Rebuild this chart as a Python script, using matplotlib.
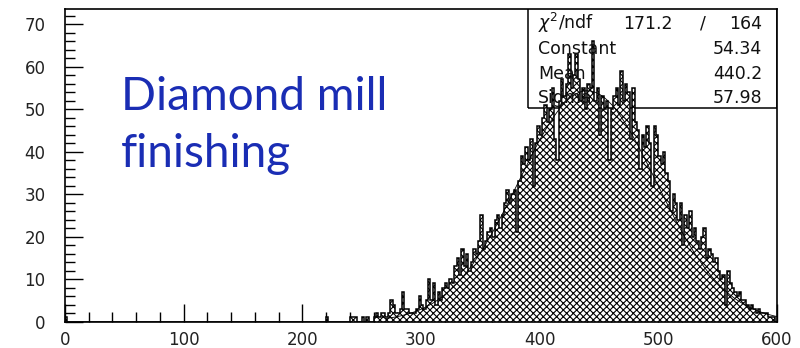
import numpy as np
import matplotlib
matplotlib.use("Agg")
import matplotlib.pyplot as plt
from matplotlib.ticker import MultipleLocator
from matplotlib.patches import Rectangle

plt.rcParams['hatch.linewidth'] = 0.8

# histogram: bin width 2, range 0..600
bin_width = 2
x_min, x_max = 0, 600
# isolated low bins (bin start -> count)
low_bins = {0: 1, 220: 1}
# main body, bins starting at 230, 232, ... 598
main_start = 230
main_counts = [
    0, 0, 0, 0, 0, 1, 1, 1, 0, 0,        # 230-248
    1, 0, 1, 0, 0, 1, 2, 1, 2, 2,        # 250-268
    1, 2, 5, 4, 2, 2, 3, 7, 3, 3,        # 270-288
    2, 2, 2, 3, 6, 4, 3, 5, 10, 5,       # 290-308
    9, 4, 7, 5, 8, 9, 8, 10, 9, 13,      # 310-328
    15, 11, 17, 13, 16, 12, 14, 17, 16, 19,   # 330-348
    25, 17, 19, 21, 22, 20, 24, 25, 22, 25,   # 350-368
    28, 31, 28, 30, 31, 21, 33, 39, 37, 41,   # 370-388
    38, 43, 32, 42, 46, 44, 48, 51, 47, 50,   # 390-408
    55, 43, 38, 52, 57, 53, 56, 63, 55, 58,   # 410-428
    63, 57, 52, 55, 50, 56, 55, 66, 52, 55,   # 430-448
    44, 53, 50, 52, 38, 50, 53, 55, 51, 59,   # 450-468
    52, 56, 54, 43, 55, 47, 45, 36, 44, 41,   # 470-488
    46, 42, 32, 46, 44, 39, 37, 40, 35, 33,   # 490-508
    26, 30, 28, 24, 28, 18, 25, 22, 26, 20,   # 510-528
    22, 19, 17, 20, 22, 15, 17, 16, 14, 15,   # 530-548
    12, 10, 11, 4, 12, 9, 8, 7, 6, 7,         # 550-568
    5, 5, 4, 3, 4, 3, 2, 3, 2, 2,             # 570-588
    2, 1, 1, 1, 0,                            # 590-598
]

# gaussian fit results (stats box)
fit_const = 54.34
fit_mean = 440.2
fit_sigma = 57.98
fit_chi2 = 171.2
fit_ndf = 164
fit_range = (270, 600)

edges = np.arange(x_min, x_max + bin_width, bin_width)
counts = np.zeros(len(edges) - 1)
for start, c in low_bins.items():
    counts[start // bin_width] = c
i0 = main_start // bin_width
counts[i0:i0 + len(main_counts)] = main_counts

fig = plt.figure(figsize=(8, 3.48), dpi=100)
ax = fig.add_axes([65 / 800, 26.3 / 348, 712 / 800, 312.4 / 348])

# stats box (drawn under the histogram, like the original)
ax.add_patch(Rectangle((390.2, 50.3), 600 - 390.2, 30, facecolor='none',
                       edgecolor='black', linewidth=1.1, zorder=1))

ax.stairs(counts, edges, fill=True, facecolor='white', edgecolor='black',
          hatch='xxxxx', linewidth=0, zorder=2)
ax.stairs(counts, edges, color='black', linewidth=1.1, zorder=3)

xf = np.linspace(fit_range[0], fit_range[1], 300)
yf = fit_const * np.exp(-0.5 * ((xf - fit_mean) / fit_sigma) ** 2)
ax.plot(xf, yf, color='black', linewidth=0.6, zorder=4)

ax.set_xlim(x_min, x_max)
ax.set_ylim(0, 73.5)
ax.xaxis.set_major_locator(MultipleLocator(100))
ax.xaxis.set_minor_locator(MultipleLocator(20))
ax.yaxis.set_major_locator(MultipleLocator(10))
ax.yaxis.set_minor_locator(MultipleLocator(2))
ax.tick_params(which='both', direction='in', top=False, right=False,
               width=1, colors='black', labelcolor='#222222', labelsize=12)
ax.tick_params(which='major', length=13)
ax.tick_params(which='minor', length=7)
ax.tick_params(axis='y', pad=14)
ax.tick_params(axis='x', pad=7)
for s in ax.spines.values():
    s.set_linewidth(1.2)

# stats box text (pixel positions)
def px(x, y):
    return x / 800, 1 - y / 348

rows = [
    ('Constant', f'{fit_const:.2f}'),
    ('Mean', f'{fit_mean:.1f}'),
    ('Sigma', f'{fit_sigma:.2f}'),
]
fig.text(*px(538, 29), r'$\chi^2$/ndf', fontsize=12.5, va='baseline', color='#111111')
fig.text(*px(673, 29), f'{fit_chi2:.1f}', fontsize=12.5, va='baseline', ha='right', color='#111111')
fig.text(*px(703, 29), '/', fontsize=12.5, va='baseline', ha='center', color='#111111')
fig.text(*px(762, 29), f'{fit_ndf}', fontsize=12.5, va='baseline', ha='right', color='#111111')
for k, (name, val) in enumerate(rows):
    y = 54.5 + k * 24.3
    fig.text(*px(538, y), name, fontsize=12.5, va='baseline', color='#111111')
    fig.text(*px(762, y), val, fontsize=12.5, va='baseline', ha='right', color='#111111')

fig.text(*px(121, 110), 'Diamond mill', fontsize=33, family='Lato',
         color='#1a2db4', va='baseline')
fig.text(*px(121, 167), 'finishing', fontsize=33, family='Lato',
         color='#1a2db4', va='baseline')

fig.savefig('out.png', dpi=100)
